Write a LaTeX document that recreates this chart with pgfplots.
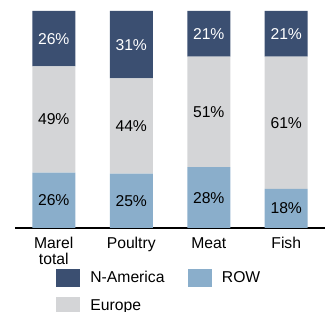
\documentclass[border=0pt]{standalone}
\usepackage{fontspec}
\setmainfont{Liberation Sans}
\usepackage{pgfplots}
\pgfplotsset{compat=1.18}
\definecolor{namer}{RGB}{59,79,113}
\definecolor{rowc}{RGB}{138,174,203}
\definecolor{eur}{RGB}{212,213,215}
\begin{document}
\begin{tikzpicture}[font=\fontsize{15.7}{15.6}\selectfont]
\useasboundingbox (0,0) rectangle (330pt,312pt);
\begin{axis}[
  at={(15pt,84pt)}, anchor=south west,
  scale only axis, width=310pt, height=217pt,
  ybar stacked, bar width=43pt,
  xmin=-0.5, xmax=3.5, ymin=0, ymax=100,
  axis x line=bottom, axis y line=none,
  x axis line style={-, line width=1.3pt, black},
  xtick={0,1,2,3}, xticklabels={Marel\\total,Poultry,Meat,Fish},
  xticklabel style={align=center, yshift=-6pt},
  major tick length=0pt,
  ytick=\empty,
  point meta=explicit symbolic,
  nodes near coords,
  every node near coord/.append style={anchor=center},
  legend columns=2,
  legend cell align=left,
  legend style={at={(rel axis cs:0,0)}, anchor=north west, xshift=41pt, yshift=-41pt,
    draw=none, fill=none, inner sep=0pt, outer sep=0pt, row sep=11pt,
    nodes={inner sep=0pt},
    /tikz/every odd column/.append style={column sep=11pt},
    /tikz/every even column/.append style={column sep=23pt}},
]
\addlegendimage{legend image code/.code={\fill[namer] (0pt,-8.5pt) rectangle (23pt,8.5pt);}}
\addlegendentry{N-America}
\addlegendimage{legend image code/.code={\fill[rowc] (0pt,-8.5pt) rectangle (23pt,8.5pt);}}
\addlegendentry{ROW}
\addlegendimage{legend image code/.code={\fill[eur] (0pt,-8.5pt) rectangle (23pt,8.5pt);}}
\addlegendentry{Europe}
\addplot[fill=rowc, draw=none, forget plot, nodes near coords style={black}]
  coordinates {(0,25.5) [26\%] (1,25) [25\%] (2,28) [28\%] (3,18) [18\%]};
\addplot[fill=eur, draw=none, forget plot, nodes near coords style={black}]
  coordinates {(0,49) [49\%] (1,44) [44\%] (2,51) [51\%] (3,61) [61\%]};
\addplot[fill=namer, draw=none, forget plot, nodes near coords style={white}]
  coordinates {(0,25.5) [26\%] (1,31) [31\%] (2,21) [21\%] (3,21) [21\%]};
\end{axis}
\end{tikzpicture}
\end{document}
